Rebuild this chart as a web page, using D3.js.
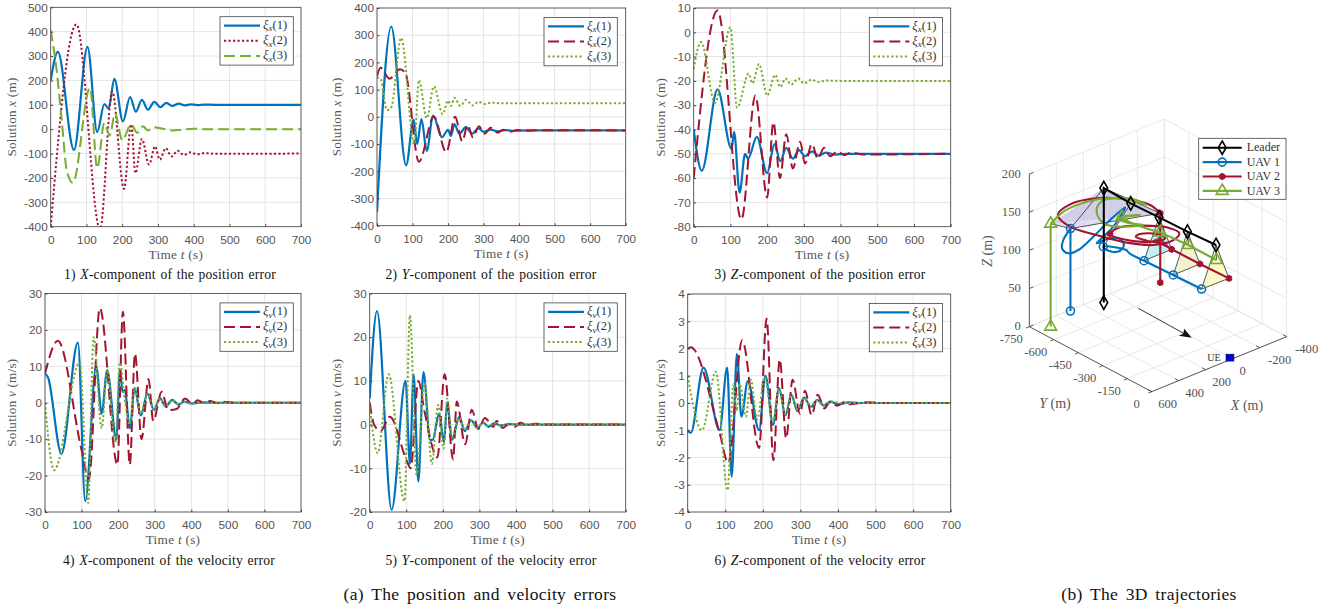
<!DOCTYPE html>
<html>
<head>
<meta charset="utf-8">
<script src="https://cdn.jsdelivr.net/npm/d3@7"></script>
<style>
  html, body { margin: 0; padding: 0; background: #fff; }
  svg { display: block; font-family: "Liberation Serif", serif; }
  .tick text { font-size: 11.8px; fill: #555; }
</style>
</head>
<body>
<svg id="chart" width="1341" height="612"></svg>
<script>
// values as [t, value] at the turning points
const posX1 = [[0,200],[20,317],[65,-85],[103,338],[130,-12],[150,103],[162,85],[178,207],[202,32],[222,132],[238,72],[255,120],[272,80],[290,112],[307,90],[323,108],[340,95],[358,105],[375,98],[392,102],[410,99],[430,101],[460,100],[700,100]]
const posX2 = [[0,-400],[72,430],[138,-410],[172,155],[205,-245],[225,20],[237,-180],[255,-40],[275,-145],[292,-70],[305,-125],[322,-78],[338,-112],[355,-88],[372,-106],[390,-95],[410,-103],[430,-98],[460,-101],[700,-100]]
const posX3 = [[0,405],[16,250],[30,50],[45,-170],[62,-220],[110,170],[130,-160],[150,25],[165,-25],[180,65],[200,-45],[225,20],[242,-15],[258,12],[272,-5],[288,8],[310,3],[340,-5],[365,-3],[400,2],[430,0],[700,0]]

const posY1 = [[0,-350],[40,332],[82,-178],[103,-10],[113,-100],[125,-8],[140,-125],[158,5],[183,-75],[200,-48],[208,-70],[218,-28],[232,-62],[250,-38],[268,-62],[285,-42],[300,-55],[320,-47],[340,-53],[360,-49],[380,-51],[420,-50],[700,-50]]
const posY2 = [[0,150],[10,180],[35,140],[65,175],[80,160],[118,-165],[160,0],[195,-130],[220,0],[240,-90],[255,-30],[270,-75],[287,-35],[303,-62],[320,-40],[340,-58],[355,-47],[375,-55],[395,-48],[420,-51],[450,-49],[700,-50]]
const posY3 = [[0,145],[10,140],[28,25],[40,35],[68,290],[105,-100],[118,135],[140,-5],[160,112],[185,10],[200,60],[208,40],[218,70],[235,40],[250,62],[270,42],[285,55],[305,47],[320,52],[350,50],[700,50]]

const posZ1 = [[0,-40],[22,-57],[65,-23.5],[103,-48],[110,-41],[125,-66],[140,-50],[148,-52],[172,-43],[200,-58],[220,-46],[236,-53],[252,-47.5],[270,-52],[287,-48.5],[303,-51],[323,-49],[340,-50.8],[360,-49.5],[385,-50.3],[420,-50],[700,-50]]
const posZ2 = [[0,-60],[65,9],[130,-77],[168,-26],[200,-68],[217,-37],[235,-60],[252,-42],[270,-56],[290,-45],[303,-54],[322,-46],[338,-52],[355,-47.5],[372,-51],[392,-49],[410,-50.5],[430,-49.5],[460,-50.3],[700,-50]]
const posZ3 = [[0,-15],[20,-4],[58,-29],[100,2],[118,-31],[150,-17],[160,-21],[178,-13],[200,-26],[222,-17.5],[236,-22.5],[250,-19],[265,-21.5],[285,-19],[300,-21],[322,-19.5],[340,-20.5],[360,-19.8],[400,-20],[700,-20]]

const velX1 = [[0,8],[8,7],[45,-14],[90,16.5],[110,-27],[140,10],[155,-3],[170,9],[195,-10],[205,9],[212,3],[218,3.5],[232,-7],[245,4],[262,-3.5],[280,2.5],[298,-2],[314,1.3],[330,-1],[348,0.8],[365,-0.5],[380,0.3],[400,-0.2],[430,0.1],[460,0],[700,0]]
const velX2 = [[0,8],[35,17],[100,-13],[120,-21],[150,26],[198,-17],[213,25],[232,-17],[246,13.5],[264,-10],[283,6.5],[296,-5],[319,3],[337,-2],[360,-1.7],[383,1.2],[404,-0.4],[417,0.7],[438,-0.2],[451,0.5],[470,-0.1],[488,0.3],[520,0],[700,0]]
const velX3 = [[0,0],[25,-18.5],[95,11],[118,-27.5],[133,18],[155,-7],[170,9],[192,-11],[205,11],[218,1],[232,-6],[245,4],[262,-3],[280,2.5],[298,-2],[314,1.2],[330,-1],[348,0.8],[365,-0.5],[380,0.3],[400,-0.2],[430,0.1],[460,0],[700,0]]

const velY1 = [[0,6],[20,26],[60,-19.5],[98,10],[110,-9],[120,11.5],[133,-13],[147,12],[165,-3.5],[172,-3.5],[190,2.5],[203,-4],[212,5],[225,-3.5],[245,1.8],[260,-1.5],[277,1],[295,-0.8],[310,0.5],[325,-0.5],[340,0.3],[360,-0.2],[380,0.1],[410,0],[700,0]]
const velY2 = [[0,5],[12,0],[30,-1.5],[55,1.8],[100,-8],[112,-10],[133,10],[150,3],[185,-7.5],[205,11.5],[228,-8],[238,5.3],[261,-4.5],[279,3.4],[297,-1],[315,1.5],[338,-0.5],[347,0.8],[364,-0.8],[379,0.1],[397,-0.5],[411,0.4],[434,-0.1],[452,0.2],[480,0],[700,0]]
const velY3 = [[0,4],[22,-6.5],[52,11.5],[95,-17.5],[110,25],[128,-11.5],[150,9.5],[170,-9],[187,4.5],[202,-5.5],[212,6],[225,-3],[245,1.5],[260,-1.2],[277,0.8],[295,-0.7],[310,0.5],[325,-0.4],[340,0.3],[360,-0.2],[380,0.1],[410,0],[700,0]]

const velZ1 = [[0,-1],[8,-1.1],[42,1.3],[85,-1],[105,1.3],[117,-2.7],[131,1.8],[143,-0.5],[160,0.8],[190,-1],[207,1],[227,-0.8],[243,0.55],[260,-0.45],[276,0.3],[292,-0.3],[310,0.2],[328,-0.15],[345,0.12],[362,-0.1],[380,0.05],[400,-0.05],[430,0.02],[470,0],[700,0]]
const velZ2 = [[0,2],[8,2.05],[85,-1.1],[108,-2.2],[145,2.3],[190,-1.65],[210,3.1],[228,-2.1],[245,1.6],[262,-1.3],[279,0.85],[299,-0.4],[312,0.45],[330,-0.45],[346,0.3],[364,-0.2],[379,0.05],[397,-0.1],[419,0.05],[430,-0.05],[476,0.03],[520,0],[700,0]]
const velZ3 = [[0,1],[38,-1],[75,1.15],[106,-3.2],[122,0.7],[130,-0.3],[138,0.7],[155,-0.5],[168,0.85],[185,-0.6],[205,0.95],[227,-0.7],[243,0.5],[260,-0.4],[276,0.3],[292,-0.25],[310,0.2],[328,-0.15],[345,0.1],[362,-0.08],[380,0.05],[410,0],[700,0]]

const timeTicks = [0,100,200,300,400,500,600,700]
const ticksPosX = [-400,-300,-200,-100,0,100,200,300,400,500]
const ticksPosY = [-400,-300,-200,-100,0,100,200,300,400]
const ticksPosZ = [-80,-70,-60,-50,-40,-30,-20,-10,0,10]
const ticksVelX = [-30,-20,-10,0,10,20,30]
const ticksVelY = [-20,-10,0,10,20,30]
const ticksVelZ = [-4,-3,-2,-1,0,1,2,3,4]

// 3D trajectories, [X, Y, Z] in metres
const leaderStart = [98,-709,0]
const leaderSnap = [[98,-709,150],[105,-538,150],[97,-371,150],[91,-202,150],[76,-39,150]]
const uav1Start = [304,-743,0]
const uav1Snap = [[304,-743,108],[261,-577,100],[201,-377,100],[191,-206,100],[183,-39,100]]
const uav2Start = [-296,-689,0]
const uav2Snap = [[-296,-689,91],[133,-642,100],[-5,-378,100],[-8,-207,100],[-16,-36,100]]
const uav3Start = [511,-693,0]
const uav3Snap = [[511,-693,135],[133,-570,130],[91,-370,130],[72,-212,130],[73,-39,130]]

const uav1Loop = [[304,-743,108],[376,-727,100],[447,-676,100],[460,-627,100],[392,-622,100],[224,-669,100],[43,-727,100],[-141,-776,100],[61,-681,100],[202,-636,100],[262,-617,100],[189,-616,100],[132,-592,100],[161,-533,100],[237,-505,100],[273,-547,100],[261,-577,100],[192,-495,100],[204,-464,100],[201,-377,100]]
const uav2Loop = [[-296,-689,91],[-264,-725,100],[-211,-824,100],[-93,-911,100],[66,-942,100],[202,-905,100],[243,-796,100],[197,-671,100],[131,-541,100],[38,-455,100],[-85,-434,100],[-163,-462,100],[-157,-535,100],[-73,-608,100],[38,-659,100],[133,-642,100],[119,-572,100],[28,-484,100],[-64,-468,100],[-63,-518,100],[7,-562,100],[46,-556,100],[32,-501,100],[-3,-448,100],[-5,-378,100]]
const uav3Loop = [[511,-693,135],[137,-914,100],[-25,-915,100],[-151,-877,100],[-239,-806,100],[-250,-734,100],[-219,-811,100],[-127,-877,100],[-47,-863,100],[36,-800,100],[75,-721,100],[33,-663,100],[-78,-612,100],[-27,-672,100],[-26,-722,100],[-143,-686,100],[133,-570,130],[-50,-630,100],[91,-370,130]]
const darkPatch = [[9,-487,100],[-56,-492,100],[-5,-378,100]]
const flightArrow = [[-2,-580,0],[6,-246,0]]
const uePoint = [3,-14,0]

const xTicks3d = [600,400,200,0,-200,-400]
const yTicks3d = [-750,-600,-450,-300,-150,0]
const zTicks3d = [0,50,100,150,200]

const BLUE = '#0072BD', RED = '#A2142F', GREEN = '#77AC30'
const DASH = '11,5', DOT = '2.2,2.3'

const svg = d3.select('#chart')
svg.append('rect').attr('width', 1341).attr('height', 612).attr('fill', '#fff')

function mathText(sel, parts) {
  // parts are [text, style]; style is 'i' italic or 'sub' for italic subscript
  parts.forEach(([t, s]) => {
    const ts = sel.append('tspan').text(t)
    if (s === 'i' || s === 'sub') ts.attr('font-style', 'italic')
    if (s === 'sub') ts.attr('font-size', '0.72em').attr('dy', '0.25em')
    if (s === 'after') ts.attr('dy', '-0.18em')
  })
}

const panels = [
  { frame: [50.7,301,7.3,226.7], domain: [-400,500], ticks: ticksPosX, sym: 'x', sub: 'x', unit: 'm', titleX: 12,
    series: [[posX1,BLUE,null],[posX2,RED,DOT],[posX3,GREEN,DASH]], no: '1', axis: 'X', kind: 'position', capX: 170, capY: 279, legendX: 220 },
  { frame: [377,625.7,8,225.7], domain: [-400,400], ticks: ticksPosY, sym: 'x', sub: 'x', unit: 'm', titleX: 337,
    series: [[posY1,BLUE,null],[posY2,RED,DASH],[posY3,GREEN,DOT]], no: '2', axis: 'Y', kind: 'position', capX: 491, capY: 279, legendX: 544 },
  { frame: [693.7,950.7,8,226.7], domain: [-80,10], ticks: ticksPosZ, sym: 'x', sub: 'x', unit: 'm', titleX: 660.7,
    series: [[posZ1,BLUE,null],[posZ2,RED,DASH],[posZ3,GREEN,DOT]], no: '3', axis: 'Z', kind: 'position', capX: 820, capY: 279, legendX: 869.3 },
  { frame: [45,301,293.5,512], domain: [-30,30], ticks: ticksVelX, sym: 'v', sub: 'v', unit: 'm/s', titleX: 12,
    series: [[velX1,BLUE,null],[velX2,RED,DASH],[velX3,GREEN,DOT]], no: '4', axis: 'X', kind: 'velocity', capX: 169, capY: 565, legendX: 220 },
  { frame: [369.7,625.7,293.5,512], domain: [-20,30], ticks: ticksVelY, sym: 'v', sub: 'v', unit: 'm/s', titleX: 336.7,
    series: [[velY1,BLUE,null],[velY2,RED,DASH],[velY3,GREEN,DOT]], no: '5', axis: 'Y', kind: 'velocity', capX: 491, capY: 565, legendX: 544 },
  { frame: [687.7,950.7,294,512], domain: [-4,4], ticks: ticksVelZ, sym: 'v', sub: 'v', unit: 'm/s', titleX: 660.7,
    series: [[velZ1,BLUE,null],[velZ2,RED,DASH],[velZ3,GREEN,DOT]], no: '6', axis: 'Z', kind: 'velocity', capX: 820, capY: 565, legendX: 869.3 }
]

panels.forEach((p, idx) => {
  const [x0, x1, y0, y1] = p.frame
  const x = d3.scaleLinear().domain([0,700]).range([x0,x1])
  const y = d3.scaleLinear().domain(p.domain).range([y1,y0])
  const g = svg.append('g')

  // grid
  g.append('g').selectAll('line').data(timeTicks).enter().append('line')
    .attr('x1', d => x(d)).attr('x2', d => x(d)).attr('y1', y0).attr('y2', y1)
    .attr('stroke', '#e4e4e4').attr('stroke-width', 1)
  g.append('g').selectAll('line').data(p.ticks).enter().append('line')
    .attr('x1', x0).attr('x2', x1).attr('y1', d => y(d)).attr('y2', d => y(d))
    .attr('stroke', '#e4e4e4').attr('stroke-width', 1)

  // lines
  g.append('clipPath').attr('id', 'clip' + idx).append('rect')
    .attr('x', x0).attr('y', y0).attr('width', x1 - x0).attr('height', y1 - y0)
  const line = d3.line().x(d => x(d[0])).y(d => y(d[1])).curve(d3.curveMonotoneX)
  g.append('g').attr('clip-path', 'url(#clip' + idx + ')').selectAll('path').data(p.series).enter().append('path')
    .attr('d', d => line(d[0]))
    .attr('fill', 'none')
    .attr('stroke', d => d[1])
    .attr('stroke-width', d => d[2] ? 2 : 2.2)
    .attr('stroke-dasharray', d => d[2])

  // axes
  g.append('rect').attr('x', x0).attr('y', y0).attr('width', x1 - x0).attr('height', y1 - y0)
    .attr('fill', 'none').attr('stroke', '#444').attr('stroke-width', 0.8)
  g.append('g').attr('transform', `translate(0,${y1})`)
    .call(d3.axisBottom(x).tickValues(timeTicks).tickSize(-2.5).tickPadding(9).tickFormat(d => String(d)))
    .call(a => a.select('.domain').remove())
    .call(a => a.selectAll('.tick line').attr('stroke', '#444'))
  g.append('g').attr('transform', `translate(${x0},0)`)
    .call(d3.axisLeft(y).tickValues(p.ticks).tickSize(-2.5).tickPadding(3).tickFormat(d => String(d)))
    .call(a => a.select('.domain').remove())
    .call(a => a.selectAll('.tick line').attr('stroke', '#444'))

  // titles
  const xt = g.append('text').attr('x', (x0 + x1) / 2).attr('y', y1 + 32)
    .attr('text-anchor', 'middle').attr('font-size', 13.2).attr('letter-spacing', 0.3).attr('fill', '#555')
  mathText(xt, [['Time '], ['t', 'i'], [' (s)']])
  const yt = g.append('text').attr('transform', `translate(${p.titleX + 4},${(y0 + y1) / 2}) rotate(-90)`)
    .attr('text-anchor', 'middle').attr('font-size', 13.2).attr('letter-spacing', 0.2).attr('fill', '#555')
  mathText(yt, [['Solution '], [p.sym, 'i'], [` (${p.unit})`]])

  // caption
  const cap = g.append('text').attr('x', p.capX).attr('y', p.capY)
    .attr('text-anchor', 'middle').attr('font-size', 13.6).attr('letter-spacing', 0.2).attr('word-spacing', 1).attr('fill', '#111')
  mathText(cap, [[p.no + ') '], [p.axis, 'i'], [`-component of the ${p.kind} error`]])

  // legend
  const ly = y0 + 9.4
  const lg = g.append('g').attr('transform', `translate(${p.legendX},${ly})`)
  lg.append('rect').attr('width', 73.3).attr('height', 48.4).attr('fill', '#fff').attr('stroke', '#444').attr('stroke-width', 0.8)
  p.series.forEach((s, i) => {
    const rowY = 9 + i * 15.1
    lg.append('line').attr('x1', 4).attr('x2', 40).attr('y1', rowY).attr('y2', rowY)
      .attr('stroke', s[1]).attr('stroke-width', s[2] ? 2 : 2.2).attr('stroke-dasharray', s[2])
    const t = lg.append('text').attr('x', 43).attr('y', rowY + 3.5).attr('font-size', 12.6).attr('fill', '#333')
    mathText(t, [['ξ', 'i'], [p.sub, 'sub'], [`(${i + 1})`, 'after']])
  })
})

const figCaption = (cx, s) => svg.append('text').attr('x', cx).attr('y', 600).attr('text-anchor', 'middle')
  .attr('font-size', 17.5).attr('letter-spacing', 0.3).attr('word-spacing', 3).attr('fill', '#111').text(s)
figCaption(480, '(a) The position and velocity errors')
figCaption(1149, '(b) The 3D trajectories')

// 3D panel: oblique projection built from one scale per world axis
const origin = [1151.67, 391.67]
const xSx = d3.scaleLinear().domain([600,-400]).range([0,135])
const xSy = d3.scaleLinear().domain([600,-400]).range([0,-55])
const ySx = d3.scaleLinear().domain([0,-750]).range([0,-122.33])
const ySy = d3.scaleLinear().domain([0,-750]).range([0,-65])
const zSy = d3.scaleLinear().domain([0,200]).range([0,-152.67])
const proj = p => [origin[0] + xSx(p[0]) + ySx(p[1]), origin[1] + xSy(p[0]) + ySy(p[1]) + zSy(p[2])]

const g3 = svg.append('g')
const seg = (a, b, stroke, w) => g3.append('line')
  .attr('x1', proj(a)[0]).attr('y1', proj(a)[1]).attr('x2', proj(b)[0]).attr('y2', proj(b)[1])
  .attr('stroke', stroke).attr('stroke-width', w)

const GRID = '#e2e2e2'
xTicks3d.forEach(v => {
  seg([v,-750,0],[v,0,0],GRID,0.8)
  seg([v,-750,0],[v,-750,200],GRID,0.8)
})
yTicks3d.forEach(v => {
  seg([600,v,0],[-400,v,0],GRID,0.8)
  seg([-400,v,0],[-400,v,200],GRID,0.8)
})
zTicks3d.forEach(v => {
  seg([600,-750,v],[-400,-750,v],GRID,0.8)
  seg([-400,-750,v],[-400,0,v],GRID,0.8)
})

// axes and ticks
const AX = '#333'
seg([600,-750,0],[600,-750,200],AX,0.8)
seg([600,-750,0],[600,0,0],AX,0.8)
seg([600,0,0],[-400,0,0],AX,0.8)
zTicks3d.forEach(v => seg([600,-750,v],[570,-750,v],AX,0.8))
yTicks3d.forEach(v => seg([600,v,0],[625,v,0],AX,0.8))
xTicks3d.forEach(v => seg([v,0,0],[v,-22,0],AX,0.8))

const label3 = (x, y, s, anchor) => g3.append('text').attr('x', x).attr('y', y)
  .attr('text-anchor', anchor || 'middle').attr('font-size', 12.6).attr('fill', '#555').text(s)
zTicks3d.forEach(v => label3(proj([600,-750,v])[0] - 8.6, proj([600,-750,v])[1] + 3.5, String(v), 'end'))
yTicks3d.forEach(v => {
  const q = proj([600,v,0])
  label3(q[0] - (v === 0 ? 15 : 18), q[1] + 16, String(v))
})
xTicks3d.forEach(v => {
  const q = proj([v,0,0])
  label3(q[0] + (v === 0 ? 10 : v < 0 ? 20 : 16), q[1] + 16, String(v))
})
const yLab = g3.append('text').attr('x', 1055).attr('y', 408).attr('text-anchor', 'middle').attr('font-size', 14).attr('fill', '#555')
mathText(yLab, [['Y', 'i'], ['  (m)']])
const xLab = g3.append('text').attr('x', 1247).attr('y', 410).attr('text-anchor', 'middle').attr('font-size', 14).attr('fill', '#555')
mathText(xLab, [['X', 'i'], ['  (m)']])
const zLab = g3.append('text').attr('transform', 'translate(992,251) rotate(-90)').attr('text-anchor', 'middle').attr('font-size', 14).attr('fill', '#555')
mathText(zLab, [['Z', 'i'], ['  (m)']])

// flight direction arrow
const aA = proj(flightArrow[0]), aB = proj(flightArrow[1])
g3.append('line').attr('x1', aA[0]).attr('y1', aA[1]).attr('x2', aB[0] - 4).attr('y2', aB[1] - 2).attr('stroke', '#111').attr('stroke-width', 0.8)
g3.append('path').attr('fill', '#111')
  .attr('d', `M${aB[0]},${aB[1]} l-13,-2 l4.5,-2 l1,-5 Z`)

// UE
const ue = proj(uePoint)
g3.append('rect').attr('x', ue[0] - 4).attr('y', ue[1] - 3.5).attr('width', 8).attr('height', 7)
  .attr('fill', '#0000e0').attr('stroke', '#111').attr('stroke-width', 0.5)
g3.append('text').attr('x', ue[0] - 16).attr('y', ue[1] + 3.5).attr('text-anchor', 'middle').attr('font-size', 10).attr('fill', '#333').text('UE')

// formation faces
const faceColor = ['#c4bfe2', null, '#bdeeee', '#f3efcb', '#fbf8c4']
const poly = pts => pts.map(p => proj(p).join(',')).join(' ')
faceColor.forEach((c, i) => {
  const L = leaderSnap[i], U1 = uav1Snap[i], U2 = uav2Snap[i], U3 = uav3Snap[i]
  if (c) {
    const faces = i === 0 ? [[L,U3,U1],[L,U1,U2],[L,U2,U3]] : [[L,U1,U2]]
    faces.forEach(f => g3.append('polygon').attr('points', poly(f)).attr('fill', c).attr('fill-opacity', i === 0 ? 0.5 : 0.9))
  }
})
g3.append('polygon').attr('points', poly(darkPatch)).attr('fill', RED).attr('fill-opacity', 0.75)

// thin edges of each formation
leaderSnap.forEach((L, i) => {
  const U1 = uav1Snap[i], U2 = uav2Snap[i], U3 = uav3Snap[i]
  seg(L, U1, '#111', 0.7)
  if (i !== 1) {
    seg(L, U2, '#111', 0.7)
    seg(U1, U2, '#111', 0.7)
  }
  if (i === 0) seg(U3, U1, '#111', 0.7)
  if (i > 1) seg(L, U3, '#111', 0.7)
})

// trajectories
const lin = d3.line().x(d => proj(d)[0]).y(d => proj(d)[1])
const curved = d3.line().x(d => proj(d)[0]).y(d => proj(d)[1]).curve(d3.curveCatmullRom.alpha(0.5))
const trajectories = [
  { name: 'UAV 1', color: BLUE, start: uav1Start, snap: uav1Snap, loop: uav1Loop, sym: d3.symbolCircle, size: 50 },
  { name: 'UAV 2', color: RED, start: uav2Start, snap: uav2Snap, loop: uav2Loop, sym: d3.symbolAsterisk, size: 32 },
  { name: 'UAV 3', color: GREEN, start: uav3Start, snap: uav3Snap, loop: uav3Loop, sym: d3.symbolTriangle, size: 62 }
]
const TRACK = 2.1
trajectories.forEach(t => {
  g3.append('path').attr('d', lin([t.start, t.snap[0]])).attr('fill', 'none').attr('stroke', t.color).attr('stroke-width', TRACK)
  g3.append('path').attr('d', curved(t.loop)).attr('fill', 'none').attr('stroke', t.color).attr('stroke-width', TRACK)
  g3.append('path').attr('d', lin(t.snap.slice(2))).attr('fill', 'none').attr('stroke', t.color).attr('stroke-width', TRACK)
})
g3.append('path').attr('d', lin([leaderStart].concat(leaderSnap))).attr('fill', 'none').attr('stroke', '#000').attr('stroke-width', TRACK)

const isStar = sym => sym === d3.symbolAsterisk
const marker = (at, sym, size, color) => g3.append('path')
  .attr('d', d3.symbol().type(sym).size(size)())
  .attr('transform', `translate(${at[0]},${at[1]})`)
  .attr('fill', 'none')
  .attr('stroke', color).attr('stroke-width', isStar(sym) ? 2.6 : 1.6)
trajectories.forEach(t => [t.start].concat(t.snap).forEach(p => marker(proj(p), t.sym, t.size, t.color)))
;[leaderStart].concat(leaderSnap).forEach(p => marker(proj(p), d3.symbolDiamond, 52, '#000'))

// 3D legend
const lg3 = g3.append('g').attr('transform', 'translate(1198.7,138.3)')
lg3.append('rect').attr('width', 87.3).attr('height', 61).attr('fill', '#fff').attr('stroke', '#444').attr('stroke-width', 0.8)
const legendItems = [{ name: 'Leader', color: '#000', sym: d3.symbolDiamond, size: 52 }].concat(trajectories)
legendItems.forEach((d, i) => {
  const rowY = 9.4 + i * 14.4
  lg3.append('line').attr('x1', 4).attr('x2', 43).attr('y1', rowY).attr('y2', rowY).attr('stroke', d.color).attr('stroke-width', TRACK)
  lg3.append('path').attr('d', d3.symbol().type(d.sym).size(d.size)()).attr('transform', `translate(23.5,${rowY})`)
    .attr('fill', 'none').attr('stroke', d.color).attr('stroke-width', isStar(d.sym) ? 2.6 : 1.6)
  lg3.append('text').attr('x', 48).attr('y', rowY + 3.8).attr('font-size', 12).attr('fill', '#333').text(d.name)
})
</script>
</body>
</html>
